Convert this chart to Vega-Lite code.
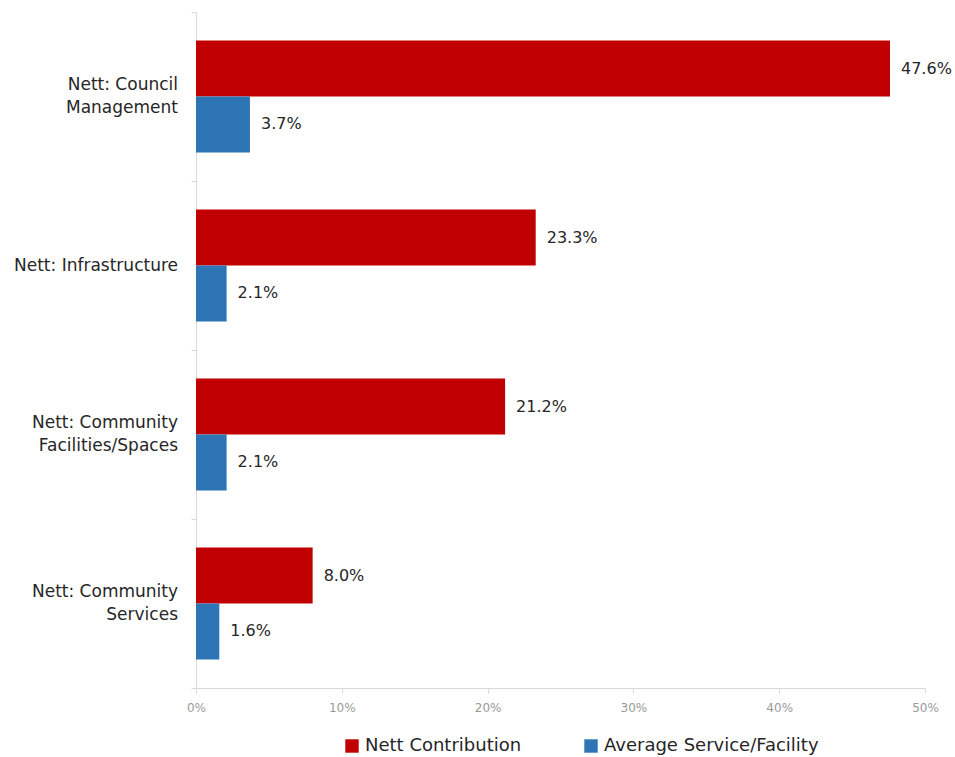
{
  "$schema": "https://vega.github.io/schema/vega-lite/v6.json",
  "width": 729,
  "height": 676,
  "autosize": {"type": "none"},
  "padding": {"left": 196, "top": 12, "right": 30, "bottom": 69},
  "background": "white",
  "config": {
    "view": {"stroke": null},
    "font": "DejaVu Sans"
  },
  "data": {
    "values": [
      {"category": "Nett: Council|Management", "series": "Nett Contribution", "value": 0.476},
      {"category": "Nett: Council|Management", "series": "Average Service/Facility", "value": 0.037},
      {"category": "Nett: Infrastructure", "series": "Nett Contribution", "value": 0.233},
      {"category": "Nett: Infrastructure", "series": "Average Service/Facility", "value": 0.021},
      {"category": "Nett: Community|Facilities/Spaces", "series": "Nett Contribution", "value": 0.212},
      {"category": "Nett: Community|Facilities/Spaces", "series": "Average Service/Facility", "value": 0.021},
      {"category": "Nett: Community|Services", "series": "Nett Contribution", "value": 0.080},
      {"category": "Nett: Community|Services", "series": "Average Service/Facility", "value": 0.016}
    ]
  },
  "encoding": {
    "y": {
      "field": "category",
      "type": "nominal",
      "sort": null,
      "title": null,
      "scale": {"paddingInner": 0, "paddingOuter": 0},
      "axis": {
        "labels": false,
        "domainColor": "#d9d9d9",
        "tickColor": "#d9d9d9",
        "tickBand": "extent",
        "tickSize": 5
      }
    },
    "x": {
      "field": "value",
      "type": "quantitative",
      "title": null,
      "scale": {"domain": [0, 0.5]},
      "axis": {
        "format": ".0%",
        "values": [0, 0.1, 0.2, 0.3, 0.4, 0.5],
        "grid": false,
        "labelFlush": false,
        "labelOverlap": false,
        "labelFontSize": 12,
        "labelColor": "#999999",
        "domainColor": "#d9d9d9",
        "tickColor": "#d9d9d9",
        "tickSize": 5,
        "labelPadding": 9
      }
    }
  },
  "layer": [
    {
      "mark": {"type": "bar"},
      "encoding": {
        "yOffset": {
          "field": "series",
          "type": "nominal",
          "sort": ["Nett Contribution", "Average Service/Facility"],
          "scale": {"paddingInner": 0, "paddingOuter": 0.509}
        },
        "color": {
          "field": "series",
          "type": "nominal",
          "scale": {
            "domain": ["Nett Contribution", "Average Service/Facility"],
            "range": ["#C00000", "#2E75B6"]
          },
          "legend": {
            "title": null,
            "orient": "none",
            "legendX": 147,
            "legendY": 725,
            "direction": "horizontal",
            "symbolType": "square",
            "symbolSize": 180,
            "symbolStrokeWidth": 0,
            "labelFontSize": 18,
            "labelColor": "#262626",
            "labelLimit": 300,
            "columnPadding": 60
          }
        }
      }
    },
    {
      "mark": {"type": "text", "align": "left", "baseline": "middle", "dx": 11, "fontSize": 16, "color": "#262626"},
      "encoding": {
        "yOffset": {
          "field": "series",
          "type": "nominal",
          "sort": ["Nett Contribution", "Average Service/Facility"],
          "scale": {"paddingInner": 0, "paddingOuter": 0.509}
        },
        "text": {"field": "value", "type": "quantitative", "format": ".1%"}
      }
    },
    {
      "transform": [
        {"filter": "datum.series == 'Nett Contribution' && indexof(datum.category, '|') >= 0"}
      ],
      "mark": {"type": "text", "align": "right", "baseline": "middle", "dx": -18, "dy": -11.5, "fontSize": 17, "lineBreak": "|", "lineHeight": 23, "color": "#262626"},
      "encoding": {
        "x": {"datum": 0, "type": "quantitative"},
        "text": {"field": "category", "type": "nominal"}
      }
    },
    {
      "transform": [
        {"filter": "datum.series == 'Nett Contribution' && indexof(datum.category, '|') < 0"}
      ],
      "mark": {"type": "text", "align": "right", "baseline": "middle", "dx": -18, "fontSize": 17, "color": "#262626"},
      "encoding": {
        "x": {"datum": 0, "type": "quantitative"},
        "text": {"field": "category", "type": "nominal"}
      }
    }
  ]
}
